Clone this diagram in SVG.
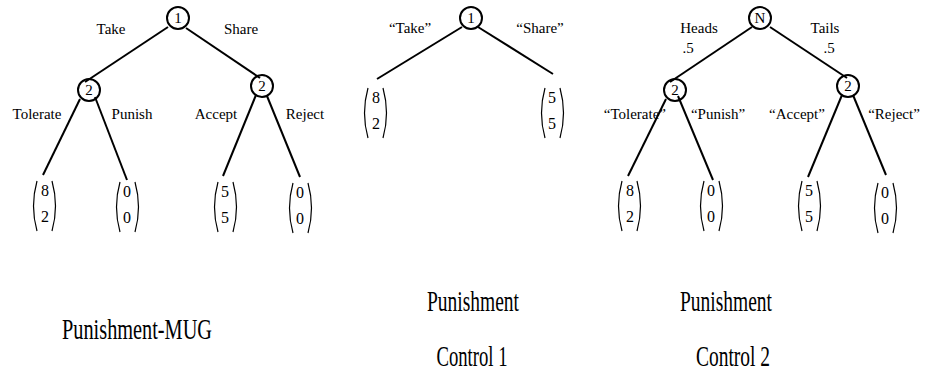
<svg xmlns="http://www.w3.org/2000/svg" width="930" height="379" viewBox="0 0 930 379">
<style>
  .bg { fill: #ffffff; }
  .node circle { fill: none; stroke: #000; stroke-width: 2; }
  .node text, .lbl, .dig { font-family: "Liberation Serif", "Times New Roman", serif; fill: #000; }
  .node text { font-size: 15px; text-anchor: middle; }
  .lbl { font-size: 15px; text-anchor: middle; }
  .lbl.end { text-anchor: end; }
  .dig { font-size: 16px; text-anchor: middle; }
  .edges line { stroke: #000; stroke-width: 2; }
  .paren { fill: none; stroke: #000; stroke-width: 1.2; }
  .cap { font-family: "Liberation Serif", "Times New Roman", serif; font-size: 29px; fill: #000; text-anchor: middle; }
</style>
<defs>
  <g id="vec">
    <path class="paren" d="M 5 0 Q -2 25 5 50"/>
    <path class="paren" d="M 20 0 Q 27 25 20 50"/>
  </g>
</defs>
<rect class="bg" x="0" y="0" width="930" height="379"/>

<g id="connectors" class="edges">
  <!-- tree 1 -->
  <line x1="168" y1="27" x2="85" y2="82"/>
  <line x1="186" y1="28" x2="260" y2="78"/>
  <line x1="80" y1="99" x2="43" y2="175"/>
  <line x1="95" y1="97" x2="127" y2="180"/>
  <line x1="256" y1="95" x2="223" y2="176"/>
  <line x1="267" y1="96" x2="300" y2="177"/>
  <!-- tree 2 -->
  <line x1="462" y1="27" x2="377" y2="79"/>
  <line x1="478" y1="27" x2="553" y2="74"/>
  <!-- tree 3 -->
  <line x1="752" y1="27" x2="670" y2="82"/>
  <line x1="770" y1="27" x2="847" y2="78"/>
  <line x1="666" y1="99" x2="628" y2="176"/>
  <line x1="678" y1="96" x2="713" y2="180"/>
  <line x1="842" y1="95" x2="808" y2="177"/>
  <line x1="853" y1="95" x2="886" y2="175"/>
</g>

<!-- Tree 1: Punishment-MUG -->
<g id="t1-root" class="node"><circle cx="178" cy="18" r="11"/><text x="178" y="23">1</text></g>
<g id="t1-p2-left" class="node"><circle cx="89" cy="90" r="11"/><text x="89" y="95">2</text></g>
<g id="t1-p2-right" class="node"><circle cx="262" cy="86" r="11"/><text x="262" y="91">2</text></g>
<g id="t1-labels">
  <text class="lbl" x="111" y="34">Take</text>
  <text class="lbl" x="241" y="34">Share</text>
  <text class="lbl" x="37" y="119">Tolerate</text>
  <text class="lbl" x="132" y="119">Punish</text>
  <text class="lbl" x="216" y="119">Accept</text>
  <text class="lbl" x="305" y="119">Reject</text>
</g>
<g id="t1-leaf1"><use href="#vec" x="32" y="181"/><text class="dig" x="45" y="196">8</text><text class="dig" x="45" y="222">2</text></g>
<g id="t1-leaf2"><use href="#vec" x="115" y="182"/><text class="dig" x="127" y="197">0</text><text class="dig" x="127" y="223">0</text></g>
<g id="t1-leaf3"><use href="#vec" x="213" y="182"/><text class="dig" x="225" y="197">5</text><text class="dig" x="225" y="223">5</text></g>
<g id="t1-leaf4"><use href="#vec" x="288" y="183"/><text class="dig" x="300" y="198">0</text><text class="dig" x="300" y="224">0</text></g>
<text class="cap" x="137" y="339" textLength="150" lengthAdjust="spacingAndGlyphs">Punishment-MUG</text>

<!-- Tree 2: Punishment Control 1 -->
<g id="t2-root" class="node"><circle cx="471" cy="18" r="11"/><text x="471" y="23">1</text></g>
<g id="t2-labels">
  <text class="lbl" x="410" y="33">“Take”</text>
  <text class="lbl" x="540" y="33">“Share”</text>
</g>
<g id="t2-leaf1"><use href="#vec" x="363" y="88"/><text class="dig" x="376" y="103">8</text><text class="dig" x="376" y="129">2</text></g>
<g id="t2-leaf2"><use href="#vec" x="540" y="88"/><text class="dig" x="552" y="103">5</text><text class="dig" x="552" y="129">5</text></g>
<text class="cap" x="473" y="311" textLength="92" lengthAdjust="spacingAndGlyphs">Punishment</text>
<text class="cap" x="472" y="366" textLength="71" lengthAdjust="spacingAndGlyphs">Control 1</text>

<!-- Tree 3: Punishment Control 2 -->
<g id="t3-root" class="node"><circle cx="760" cy="18" r="11"/><text x="760" y="23">N</text></g>
<g id="t3-p2-left" class="node"><circle cx="675" cy="90" r="11"/><text x="675" y="95">2</text></g>
<g id="t3-p2-right" class="node"><circle cx="848" cy="86" r="11"/><text x="848" y="91">2</text></g>
<g id="t3-labels">
  <text class="lbl" x="699" y="33">Heads</text>
  <text class="lbl" x="688" y="53">.5</text>
  <text class="lbl" x="825" y="33">Tails</text>
  <text class="lbl" x="829" y="53">.5</text>
  <text class="lbl end" x="666" y="119">“Tolerate”</text>
  <text class="lbl" x="718" y="119">“Punish”</text>
  <text class="lbl" x="797" y="119">“Accept”</text>
  <text class="lbl" x="894" y="119">“Reject”</text>
</g>
<g id="t3-leaf1"><use href="#vec" x="617" y="181"/><text class="dig" x="630" y="196">8</text><text class="dig" x="630" y="222">2</text></g>
<g id="t3-leaf2"><use href="#vec" x="699" y="181"/><text class="dig" x="711" y="196">0</text><text class="dig" x="711" y="222">0</text></g>
<g id="t3-leaf3"><use href="#vec" x="797" y="181"/><text class="dig" x="809" y="196">5</text><text class="dig" x="809" y="222">5</text></g>
<g id="t3-leaf4"><use href="#vec" x="873" y="183"/><text class="dig" x="885" y="198">0</text><text class="dig" x="885" y="224">0</text></g>
<text class="cap" x="726" y="311" textLength="92" lengthAdjust="spacingAndGlyphs">Punishment</text>
<text class="cap" x="733" y="366" textLength="74" lengthAdjust="spacingAndGlyphs">Control 2</text>
</svg>
